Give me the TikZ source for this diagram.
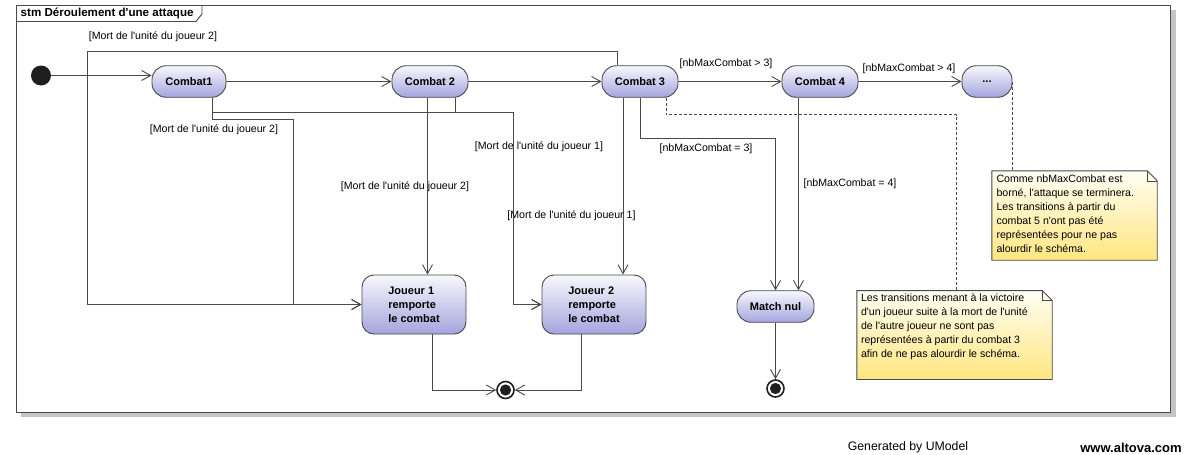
\documentclass[tikz,border=0pt]{standalone}
\usepackage{fontspec}
\newfontfamily\uifont{Liberation Sans}
\usetikzlibrary{arrows.meta,calc}
\definecolor{ln}{HTML}{4A4A4A}
\definecolor{stTop}{HTML}{F8F8FD}
\definecolor{stBot}{HTML}{A4A4DE}
\definecolor{noteTop}{HTML}{FFFEF4}
\definecolor{noteBot}{HTML}{FFE680}
\definecolor{shadowc}{HTML}{C4C4C4}
\begin{document}
\begin{tikzpicture}[x=1pt,y=-1pt,font=\uifont,
  tr/.style={draw=ln,line width=0.9pt,-{Straight Barb[length=9pt,width=10pt]}},
  notelink/.style={draw=ln,line width=0.9pt,dash pattern=on 3pt off 2pt},
  stateb/.style={draw=ln,line width=0.9pt,top color=stTop,bottom color=stBot,
    font=\uifont\bfseries\fontsize{11}{14}\selectfont,inner sep=0pt,text=black,align=center},
  combat/.style={stateb,rounded corners=14pt,minimum height=31.5pt},
  result/.style={stateb,align=left,rounded corners=12pt,minimum width=104pt,minimum height=59pt},
  guard/.style={font=\uifont\fontsize{10.6}{12}\selectfont,inner sep=0pt,text=black},
  notebox/.style={draw=none,minimum width=#1,inner sep=0pt},
  notetext/.style={font=\uifont\fontsize{10.6}{14}\selectfont,inner sep=0pt,align=left,anchor=north west,text=black},
  initial/.style={circle,fill=black!88,minimum size=20pt,inner sep=0pt},
  final/.style={circle,draw=black!88,line width=1.6pt,minimum size=17pt,inner sep=0pt,
    path picture={\fill[black!88] (path picture bounding box.center) circle (5.6pt);}}
]
\useasboundingbox (0,0) rectangle (1187,455);

% diagram frame with its shadow and name tab
\fill[shadowc] (21,10) rectangle (1175.5,417);
\filldraw[fill=white,draw=ln,line width=0.9pt] (16,5) rectangle (1170.5,412);
\draw[ln,line width=0.9pt] (16,21.5) -- (196,21.5) -- (202,14) -- (202,5);
\node[anchor=west,inner sep=0pt,font=\uifont\bfseries\fontsize{11.6}{13}\selectfont] (title) at (20.5,13.2) {stm Déroulement d'une attaque};

% states
\node[initial] (init) at (41,75.5) {};
\node[combat,minimum width=74pt] (c1) at (189,81.5) {Combat1};
\node[combat,minimum width=76pt] (c2) at (430,81.5) {Combat 2};
\node[combat,minimum width=76pt] (c3) at (640,81.5) {Combat 3};
\node[combat,minimum width=76pt] (c4) at (820,81.5) {Combat 4};
\node[combat,minimum width=50pt] (dots) at (987,81.5) {...};
\node[result] (j1) at (414,304.5) {Joueur 1\\remporte\\le combat};
\node[result] (j2) at (594,304.5) {Joueur 2\\remporte\\le combat};
\node[combat,minimum width=77pt] (mn) at (775.5,306.5) {Match nul};
\node[final] (f1) at (505.5,390) {};
\node[final] (f2) at (775.5,388.5) {};

% main sequence of combats
\draw[tr] (init) -- (init -| c1.west);
\draw[tr] (c1) -- (c2);
\draw[tr] (c2) -- (c3);
\draw[tr] (c3) -- (c4);
\draw[tr] (c4) -- (dots);

% victories
\draw[tr] ([xshift=-23pt]c3.north) |- (87,51) |- (j1.west);
\draw[tr] ([xshift=23pt]c1.south) |- (293,119.5) |- (j1.west);
\draw[tr] ([xshift=23pt]c1.south) |- (513,112.5) |- (j2.west);
\draw[tr] ([xshift=25pt]c2.south) |- (513,112.5) |- (j2.west);
\draw[tr] ([xshift=-2.5pt]c2.south) -- ([xshift=-2.5pt]c2.south |- j1.north);
\draw[tr] ([xshift=-17pt]c3.south) -- ([xshift=-17pt]c3.south |- j2.north);

% draws
\draw[tr] (c3.south) |- (775.5,138.5) -- (mn.north);
\draw[tr] ([xshift=-21.5pt]c4.south) -- ([xshift=-21.5pt]c4.south |- mn.north);

% endings
\draw[tr] ([xshift=18pt]j1.south) |- (f1.west);
\draw[tr] ([xshift=-13pt]j2.south) |- (f1.east);
\draw[tr] (mn.south) -- (f2.north);

% guards
\node[guard] (g1) at (153,36.5) {[Mort de l'unité du joueur 2]};
\node[guard] (g2) at (214,130) {[Mort de l'unité du joueur 2]};
\node[guard] (g3) at (539,146.5) {[Mort de l'unité du joueur 1]};
\node[guard] (g4) at (405,187) {[Mort de l'unité du joueur 2]};
\node[guard] (g5) at (571.5,216) {[Mort de l'unité du joueur 1]};
\node[guard] (g6) at (706,149) {[nbMaxCombat = 3]};
\node[guard] (g7) at (726,64) {[nbMaxCombat > 3]};
\node[guard] (g8) at (909,69) {[nbMaxCombat > 4]};
\node[guard] (g9) at (850,184) {[nbMaxCombat = 4]};

% notes
\node[notebox=165pt,minimum height=89pt] (n1) at (1074.5,215.5) {};
\node[notebox=195pt,minimum height=88.5pt] (n2) at (954.5,335) {};
\foreach \n in {n1,n2}{
  \shade[top color=noteTop,bottom color=noteBot]
    (\n.north west) -- ([xshift=-10pt]\n.north east) -- ([yshift=-10pt]\n.north east)
    -- (\n.south east) -- (\n.south west) -- cycle;
  \draw[ln,line width=0.9pt]
    (\n.north west) -- ([xshift=-10pt]\n.north east) -- ([yshift=-10pt]\n.north east)
    -- (\n.south east) -- (\n.south west) -- cycle;
  \draw[ln,line width=0.6pt] ([xshift=-10pt]\n.north east) |- ([yshift=-10pt]\n.north east);
}
\node[notetext] (n1t) at ([xshift=4.5pt,yshift=-4pt]n1.north west)
  {Comme nbMaxCombat est\\borné, l'attaque se terminera.\\Les transitions à partir du\\combat 5 n'ont pas été\\représentées pour ne pas\\alourdir le schéma.};
\node[notetext] (n2t) at ([xshift=4pt,yshift=-2.5pt]n2.north west)
  {Les transitions menant à la victoire\\d'un joueur suite à la mort de l'unité\\de l'autre joueur ne sont pas\\représentées à partir du combat 3\\afin de ne pas alourdir le schéma.};
\draw[notelink] (dots.east) -- (dots.east |- n1.north);
\draw[notelink] ([xshift=26pt]c3.south) |- (956.5,114.5) -- (956.5,0 |- n2.north);

% footer
\node[inner sep=0pt,font=\uifont\fontsize{12.3}{14}\selectfont] (gen) at (908,447.5) {Generated by UModel};
\node[inner sep=0pt,font=\uifont\bfseries\fontsize{13}{14}\selectfont] (web) at (1131,447.5) {www.altova.com};
\end{tikzpicture}
\end{document}
